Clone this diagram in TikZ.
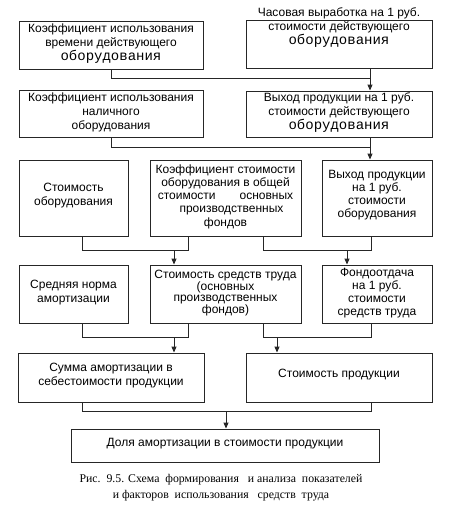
\documentclass[tikz,border=0pt]{standalone}
\usepackage{fontspec}
\setmainfont{Liberation Sans}
\newfontfamily\monof{Liberation Mono}
\newfontfamily\seriff{Liberation Serif}
\usetikzlibrary{arrows.meta,calc}
\newcommand{\monoword}[1]{{\monof\fontsize{14}{14}\selectfont #1}}
\begin{document}
\begin{tikzpicture}[x=1pt,y=-1pt,
  box/.style={draw=black!85,line width=0.9pt,inner sep=0pt},
  txt/.style={align=center,inner sep=0pt,font=\fontsize{12}{14}\selectfont},
  line/.style={draw=black!85,line width=0.9pt},
  arr/.style={line,-{Triangle[length=6pt,width=5pt]}}]
\useasboundingbox (0,0) rectangle (455,514);
% row 1
\node[box,minimum width=184pt,minimum height=48pt] (r1l) at (111,45) {};
\node[txt] (t1l) at (111,43.5) {Коэффициент использования\\времени действующего\\\monoword{оборудования}};
\node[box,minimum width=186pt,minimum height=48pt] (r1r) at (339,44) {};
\node[txt] (t1r) at (339,28) {Часовая выработка на 1 руб.\\стоимости действующего\\\monoword{оборудования}};
% row 2
\node[box,minimum width=184pt,minimum height=47pt] (r2l) at (111,113.5) {};
\node[txt] (t2l) at (111,112) {Коэффициент использования\\наличного\\оборудования};
\node[box,minimum width=186pt,minimum height=46pt] (r2r) at (339,114) {};
\node[txt] (t2r) at (339,113) {Выход продукции на 1 руб.\\стоимости действующего\\\monoword{оборудования}};
% row 3
\node[box,minimum width=109pt,minimum height=76pt] (r3l) at (73.5,198) {};
\node[txt] (t3l) at (73.5,196) {Стоимость\\оборудования};
\node[box,minimum width=151pt,minimum height=76pt] (r3m) at (225.5,198) {};
\node[txt,font=\fontsize{12}{13.3}\selectfont] (t3m) at (225.5,196.5) {Коэффициент стоимости\\оборудования в общей\\стоимости\hspace{2em}основных\\\hspace{1em}производственных\\фондов};
\node[box,minimum width=110pt,minimum height=76pt] (r3r) at (377,198) {};
\node[txt,font=\fontsize{12}{13}\selectfont] (t3r) at (377,195.5) {Выход продукции\\на 1 руб.\\стоимости\\оборудования};
% row 4
\node[box,minimum width=109pt,minimum height=58pt] (r4l) at (73.5,294) {};
\node[txt] (t4l) at (73.5,293) {Средняя норма\\амортизации};
\node[box,minimum width=151pt,minimum height=58pt] (r4m) at (225.5,294) {};
\node[txt,font=\fontsize{12}{11.5}\selectfont] (t4m) at (225.5,293) {Стоимость средств труда\\(основных\\производственных\\фондов)};
\node[box,minimum width=110pt,minimum height=58pt] (r4r) at (377,294) {};
\node[txt,font=\fontsize{12}{13}\selectfont] (t4r) at (377,293) {Фондоотдача\\на 1 руб.\\стоимости\\средств труда};
% row 5
\node[box,minimum width=186pt,minimum height=49pt] (r5l) at (111,377.5) {};
\node[txt] (t5l) at (111,376) {Сумма амортизации в\\себестоимости продукции};
\node[box,minimum width=186pt,minimum height=49pt] (r5r) at (339,377.5) {};
\node[txt] (t5r) at (339,375) {Стоимость продукции};
% row 6
\node[box,minimum width=308pt,minimum height=33pt] (r6) at (225,445.5) {};
\node[txt] (t6) at (225,444) {Доля амортизации в стоимости продукции};
% caption
\node[align=center,inner sep=0pt,font=\seriff\fontsize{11.8}{16}\selectfont] (cap) at (221,488) {Рис.\ \ 9.5. Схема\ \ формирования\ \ \ и анализа\ \ показателей\\и факторов\ \ использования\ \ \ средств\ \ труда};
% junction coordinates
\coordinate (j1) at (370,78);
\coordinate (j2) at (370,147);
\coordinate (j3a) at (82,250);
\coordinate (j3b) at (188,250);
\coordinate (j3c) at (174,250);
\coordinate (j4a) at (263,250);
\coordinate (j4b) at (371,250);
\coordinate (j4c) at (347,250);
\coordinate (j5a) at (82,337);
\coordinate (j5b) at (188,337);
\coordinate (j5c) at (174,337);
\coordinate (j6a) at (263,337);
\coordinate (j6b) at (371,337);
\coordinate (j6c) at (277,337);
\coordinate (j7a) at (82,411);
\coordinate (j7b) at (371,411);
\coordinate (j7c) at (226,411);
% connectors
\draw[line] (r1l.south) |- (j1);
\draw[arr] (r1r.south -| j1) -- (r2r.north -| j1);
\draw[line] (r2l.south) |- (j2);
\draw[arr] (r2r.south -| j2) -- (r3r.north -| j2);
\draw[line] (r3l.south -| j3a) -- (j3a) -- (j3b) -- (r3m.south -| j3b);
\draw[arr] (j3c) -- (r4m.north -| j3c);
\draw[line] (r3m.south -| j4a) -- (j4a) -- (j4b) -- (r3r.south -| j4b);
\draw[arr] (j4c) -- (r4r.north -| j4c);
\draw[line] (r4l.south -| j5a) -- (j5a) -- (j5b) -- (r4m.south -| j5b);
\draw[arr] (j5c) -- (r5l.north -| j5c);
\draw[line] (r4m.south -| j6a) -- (j6a) -- (j6b) -- (r4r.south -| j6b);
\draw[arr] (j6c) -- (r5r.north -| j6c);
\draw[line] (r5l.south -| j7a) -- (j7a) -- (j7b) -- (r5r.south -| j7b);
\draw[arr] (j7c) -- (r6.north -| j7c);
\end{tikzpicture}
\end{document}
